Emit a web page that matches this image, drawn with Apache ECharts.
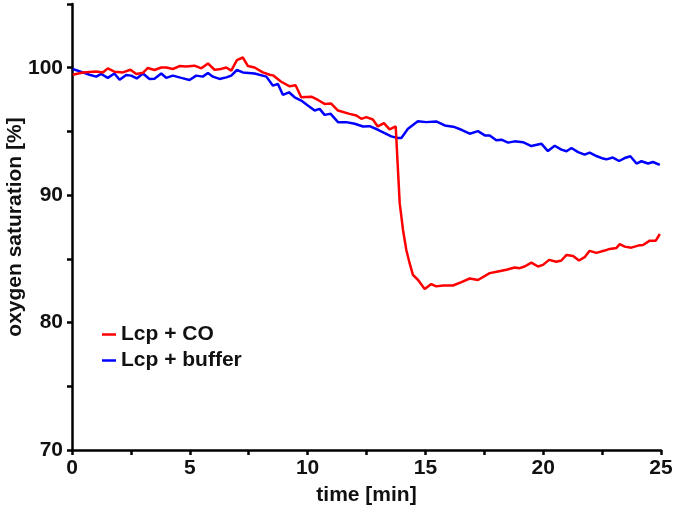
<!DOCTYPE html>
<html>
<head>
<meta charset="utf-8">
<script src="https://cdn.jsdelivr.net/npm/echarts@6/dist/echarts.min.js"></script>
<style>
html,body{margin:0;padding:0;background:#fff;}
#chart{width:675px;height:508px;}
</style>
</head>
<body>
<div id="chart"></div>
<script>
// time [min] and oxygen saturation [%] for "Lcp + CO"
const tCO = [0.03,0.46,1.03,1.31,1.52,1.80,2.16,2.48,2.73,3.01,3.22,3.50,3.79,4.00,4.28,4.56,4.85,5.20,5.49,5.77,6.05,6.26,6.55,6.76,7.00,7.25,7.47,7.75,8.10,8.39,8.53,8.88,9.24,9.49,9.73,10.16,10.44,10.72,11.00,11.29,11.78,12.07,12.28,12.49,12.77,12.98,13.24,13.48,13.74,13.91,14.05,14.19,14.33,14.47,14.68,14.97,15.25,15.46,15.75,16.17,16.53,16.88,17.23,17.73,18.08,18.44,18.79,19.00,19.21,19.50,19.78,19.99,20.25,20.56,20.77,20.99,21.27,21.52,21.76,21.97,22.26,22.61,22.82,23.11,23.25,23.46,23.74,24.03,24.24,24.52,24.78,24.95];
const vCO = [99.45,99.63,99.71,99.63,99.95,99.69,99.63,99.84,99.50,99.60,99.98,99.82,100.02,100.02,99.90,100.13,100.10,100.16,99.95,100.34,99.84,99.87,100.02,99.77,100.60,100.80,100.13,100.02,99.63,99.45,99.40,98.90,98.54,98.62,97.68,97.73,97.47,97.16,97.19,96.64,96.38,96.25,95.99,96.12,95.94,95.39,95.65,95.16,95.39,89.35,87.27,85.70,84.66,83.75,83.36,82.63,83.02,82.84,82.91,82.91,83.18,83.46,83.34,83.88,84.01,84.14,84.32,84.27,84.40,84.71,84.40,84.53,84.92,84.77,84.87,85.31,85.23,84.87,85.13,85.63,85.47,85.65,85.78,85.86,86.15,85.96,85.88,86.04,86.09,86.43,86.43,86.95];
// time [min] and oxygen saturation [%] for "Lcp + buffer"
const tBuf = [0.03,0.46,0.74,1.03,1.24,1.52,1.80,2.02,2.30,2.51,2.75,3.01,3.29,3.50,3.79,4.00,4.28,4.64,4.99,5.27,5.55,5.77,5.98,6.26,6.55,6.76,7.00,7.25,7.75,8.25,8.53,8.74,8.95,9.21,9.45,9.73,10.01,10.30,10.51,10.72,10.98,11.29,11.64,12.00,12.35,12.63,12.99,13.27,13.55,13.83,13.98,14.26,14.68,15.04,15.46,15.82,16.24,16.53,16.88,17.23,17.52,17.73,18.01,18.23,18.51,18.79,19.14,19.50,19.92,20.20,20.49,20.77,20.99,21.20,21.48,21.76,21.97,22.26,22.54,22.68,22.96,23.22,23.46,23.70,23.96,24.17,24.45,24.66,24.95];
const vBuf = [99.90,99.63,99.45,99.30,99.51,99.20,99.55,99.06,99.43,99.38,99.16,99.55,99.12,99.14,99.55,99.20,99.38,99.20,99.04,99.38,99.30,99.59,99.30,99.12,99.24,99.38,99.82,99.63,99.55,99.30,98.59,98.73,97.87,98.07,97.68,97.42,97.03,96.64,96.77,96.30,96.38,95.73,95.73,95.60,95.39,95.41,95.13,94.87,94.61,94.48,94.48,95.21,95.80,95.73,95.78,95.47,95.34,95.13,94.82,95.02,94.69,94.69,94.30,94.35,94.12,94.22,94.16,93.85,94.04,93.46,93.88,93.57,93.44,93.70,93.38,93.18,93.34,93.07,92.87,92.81,92.95,92.68,92.91,93.05,92.48,92.66,92.48,92.60,92.37];

const seriesNames = ['Lcp + CO', 'Lcp + buffer'];
const seriesColors = ['#ff0000', '#0000ff'];
const xLabelTicks = [0, 5, 10, 15, 20, 25];
const yLabelTicks = [70, 80, 90, 100];
const xTitle = 'time [min]';
const yTitle = 'oxygen saturation [%]';

const FONT = 'Arial, "Liberation Sans", sans-serif';
const zip = (a, b) => a.map((t, i) => [t, b[i]]);

const chart = echarts.init(document.getElementById('chart'), null, {renderer: 'canvas'});
chart.setOption({
  animation: false,
  backgroundColor: '#ffffff',
  grid: {left: 72, right: 14, top: 4, bottom: 58, containLabel: false, outerBoundsMode: 'none'},
  legend: {
    orient: 'vertical',
    left: 102,
    top: 324,
    padding: 0,
    itemWidth: 14,
    itemHeight: 2.5,
    itemGap: 5,
    icon: 'rect',
    data: seriesNames,
    textStyle: {fontFamily: FONT, fontWeight: 'bold', fontSize: 21, color: '#111', lineHeight: 21}
  },
  xAxis: {
    type: 'value',
    min: 0, max: 25, interval: 2.5,
    name: xTitle,
    nameLocation: 'middle',
    nameGap: 35,
    nameMoveOverlap: false,
    nameTextStyle: {fontFamily: FONT, fontWeight: 'bold', fontSize: 21, color: '#111'},
    axisLine: {show: true, onZero: false, lineStyle: {color: '#000', width: 2.5}},
    axisTick: {show: true, inside: false, length: 5, lineStyle: {color: '#000', width: 2.5}},
    axisLabel: {
      margin: 8,
      fontFamily: FONT, fontWeight: 'bold', fontSize: 21, color: '#111',
      formatter: v => xLabelTicks.some(t => Math.abs(t - v) < 1e-6) ? String(Math.round(v)) : ''
    },
    splitLine: {show: false}
  },
  yAxis: {
    type: 'value',
    min: 70, max: 105, interval: 5,
    name: yTitle,
    nameLocation: 'middle',
    nameGap: 46,
    nameMoveOverlap: false,
    nameTextStyle: {fontFamily: FONT, fontWeight: 'bold', fontSize: 21, color: '#111'},
    axisLine: {show: true, onZero: false, lineStyle: {color: '#000', width: 2.5}},
    axisTick: {show: true, inside: false, length: 5, lineStyle: {color: '#000', width: 2.5}},
    axisLabel: {
      margin: 9,
      fontFamily: FONT, fontWeight: 'bold', fontSize: 21, color: '#111',
      formatter: v => yLabelTicks.some(t => Math.abs(t - v) < 1e-6) ? String(Math.round(v)) : ''
    },
    splitLine: {show: false}
  },
  series: [
    {
      name: seriesNames[1], type: 'line', data: zip(tBuf, vBuf),
      symbol: 'none', color: seriesColors[1],
      lineStyle: {color: seriesColors[1], width: 2.5}, z: 2
    },
    {
      name: seriesNames[0], type: 'line', data: zip(tCO, vCO),
      symbol: 'none', color: seriesColors[0],
      lineStyle: {color: seriesColors[0], width: 2.5}, z: 3
    }
  ]
});
</script>
</body>
</html>
